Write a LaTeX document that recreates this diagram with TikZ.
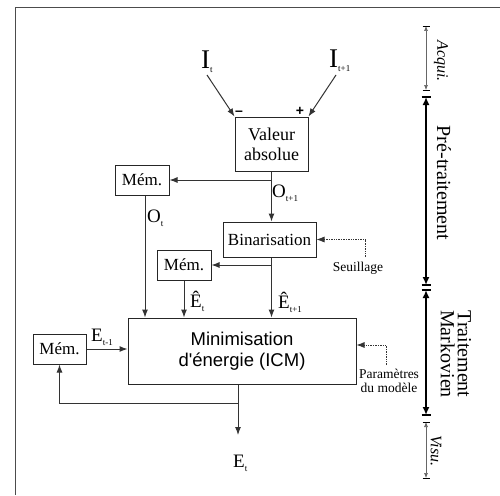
\documentclass[tikz,border=0pt]{standalone}
\usepackage{fontspec}
\setmainfont{Liberation Serif}
\newfontfamily\arialf{Liberation Sans}
\usetikzlibrary{arrows.meta}
\newcommand\lsub[1]{\raisebox{-4pt}{\fontsize{9}{9}\selectfont #1}}
\begin{document}
\begin{tikzpicture}[x=1pt,y=-1pt,
  box/.style={draw=black!85, line width=1pt, inner sep=0pt, align=center, font=\fontsize{17}{19}\selectfont},
  conn/.style={draw=black!80, line width=1pt, -{Latex[length=8pt,width=6pt]}},
  dotc/.style={draw=black!80, line width=0.8pt, dash pattern=on 0.8pt off 0.9pt, -{Latex[length=8pt,width=6pt]}},
  lbl/.style={inner sep=0pt, anchor=base west, font=\fontsize{19}{19}\selectfont},
  sgn/.style={inner sep=0pt, font=\arialf\bfseries\fontsize{14}{14}\selectfont},
  note/.style={inner sep=0pt, align=center, font=\fontsize{13.5}{14}\selectfont},
  side/.style={inner sep=0pt, align=center, rotate=-90, font=\fontsize{20}{17}\selectfont},
  sidei/.style={inner sep=0pt, rotate=-90, font=\itshape\fontsize{16}{16}\selectfont},
  thinsc/.style={draw=black!60, line width=0.6pt, {Latex[length=5pt,width=4pt]}-{Latex[length=5pt,width=4pt]}},
  thicksc/.style={draw=black, line width=1.8pt, {Latex[length=8pt,width=7pt]}-{Latex[length=8pt,width=7pt]}},
  bar/.style={draw=black, line width=1pt}
]
\useasboundingbox (0,0) rectangle (500,495);
% frame
\draw[black!70, line width=1.2pt] (15.5,495) -- (15.5,7.5) -- (500,7.5);

% boxes
\node[box, minimum width=73pt, minimum height=54pt, font=\fontsize{18}{20}\selectfont] (val) at (271.5,144) {Valeur\\absolue};
\node[box, minimum width=54pt, minimum height=30pt] (mem1) at (142,180) {Mém.};
\node[box, minimum width=93pt, minimum height=35pt] (bin) at (269.5,239.5) {Binarisation};
\node[box, minimum width=54pt, minimum height=30pt] (mem2) at (184,265) {Mém.};
\node[box, minimum width=228pt, minimum height=66pt, font=\arialf\fontsize{18.5}{21}\selectfont] (minim) at (242,351) {Minimisation\\d'énergie (ICM)};
\node[box, minimum width=53pt, minimum height=30pt] (mem3) at (59.5,349) {Mém.};

% labels
\node[lbl, font=\fontsize{27}{27}\selectfont] (It) at (201,68) {I\lsub{t}};
\node[lbl, font=\fontsize{27}{27}\selectfont] (It1) at (329,67) {I\lsub{t+1}};
\node[lbl] (Ot1) at (272,197) {O\lsub{t+1}};
\node[lbl] (Ot) at (147,222) {O\lsub{t}};
\node[lbl] (Eht) at (190,307) {Ê\lsub{t}};
\node[lbl] (Eht1) at (278,308) {Ê\lsub{t+1}};
\node[lbl] (Etm1) at (91,341) {E\lsub{t-1}};
\node[lbl] (Et) at (233,467) {E\lsub{t}};
\node[sgn] (minus) at (239,113) {–};
\node[sgn] (plus) at (300,111) {+};
\node[note] (seuil) at (358,268) {Seuillage};
\node[note] (param) at (389,381) {Paramètres\\du modèle};

% connectors
\coordinate (itS) at (207,75);
\coordinate (it1S) at (336,75);
\draw[conn] (itS) -- (val.north west);
\draw[conn] (it1S) -- (val.north east);
\draw[conn] (val.south) -- (val.south |- bin.north);
\draw[conn] (val.south |- mem1.east) -- (mem1.east);
\draw[conn] ([xshift=3pt]mem1.south) -- ([xshift=3pt]mem1.south |- minim.north);
\draw[conn] (val.south |- bin.south) -- (val.south |- minim.north);
\draw[conn] (val.south |- mem2.east) -- (mem2.east);
\draw[conn] (mem2.south) -- (mem2.south |- minim.north);
\draw[conn] (mem3.east) -- (mem3.east -| minim.west);
\coordinate (etop) at (238,435);
\coordinate (j3) at (238,403);
\draw[conn] ([xshift=-4pt]minim.south) -- (etop);
\draw[conn] (j3) -| (mem3.south);
\coordinate (sd) at (365,257);
\draw[dotc] (sd) |- (bin.east);
\coordinate (pd) at (386,365);
\draw[dotc] (pd) |- ([yshift=6pt]minim.east);

% side scale
\coordinate (a1) at (426,26); \coordinate (a2) at (426,90);
\coordinate (p1) at (426,97); \coordinate (p2) at (426,285);
\coordinate (m1) at (426,290); \coordinate (m2) at (426,415);
\coordinate (v1) at (426,422); \coordinate (v2) at (426,478);
\draw[thinsc] (a1) -- (a2);
\draw[thicksc] (p1) -- (p2);
\draw[thicksc] (m1) -- (m2);
\draw[thinsc] (v1) -- (v2);
\foreach \c in {a1,a2,v1,v2} \draw[bar, line width=0.8pt] ([xshift=-3.5pt]\c) -- ([xshift=3.5pt]\c);
\foreach \c in {p1,p2,m1,m2} \draw[bar, line width=1.2pt] ([xshift=-4.5pt]\c) -- ([xshift=4.5pt]\c);
\node[sidei] (acq) at (441,61) {Acqui.};
\node[side] (pre) at (444,183) {Pré-traitement};
\node[side] (mark) at (456,354) {Traitement\\Markovien};
\node[sidei] (vis) at (436,451) {Visu.};
\end{tikzpicture}
\end{document}
